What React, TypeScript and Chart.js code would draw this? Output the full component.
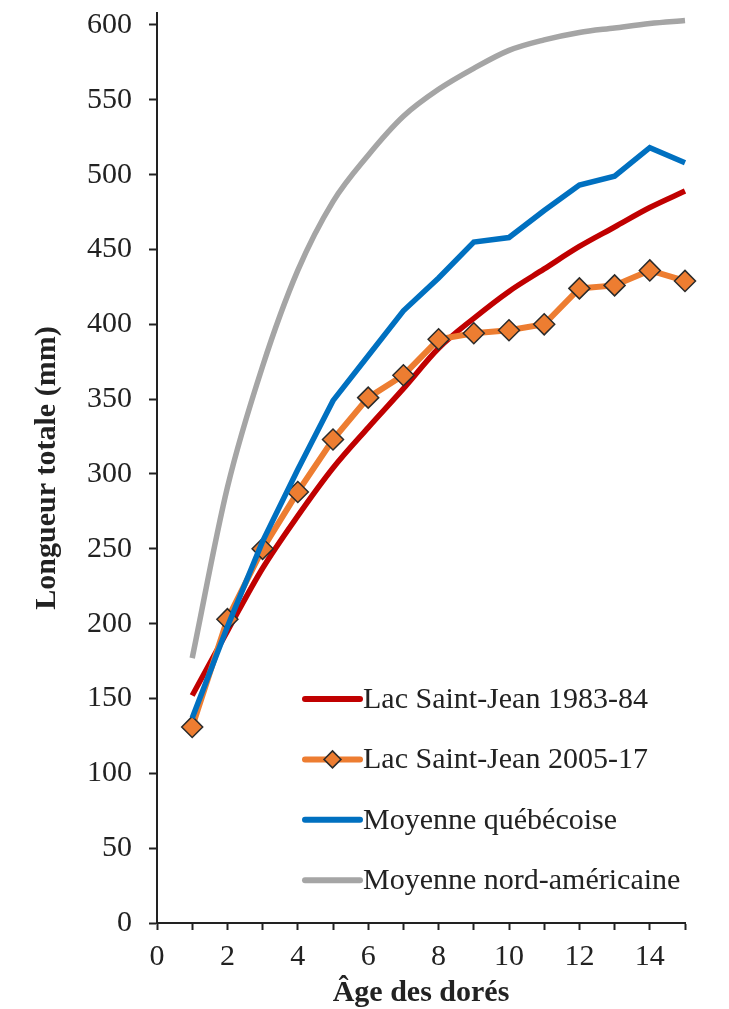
import React, { useEffect, useRef } from 'react';
import { Chart, registerables } from 'chart.js';

Chart.register(...registerables);

// ---- Data ----
const ages = [1, 2, 3, 4, 5, 6, 7, 8, 9, 10, 11, 12, 13, 14, 15];
const lacSaintJean1983 = [152, 195, 237, 272, 304, 331, 357, 384, 404, 422, 437, 452, 465, 478, 489];
const lacSaintJean2005 = [131, 203, 250, 288, 323, 351, 366, 390, 394, 396, 400, 424, 426, 436, 429];
const moyenneQuebecoise = [137, 198, 255, 303, 349, 379, 409, 431, 455, 458, 476, 493, 499, 518, 508];
const moyenneNordAmericaine = [177, 291, 372, 436, 482, 513, 539, 557, 571, 583, 590, 595, 598, 601, 603];
const seriesLabels = [
  'Lac Saint-Jean 1983-84',
  'Lac Saint-Jean 2005-17',
  'Moyenne québécoise',
  'Moyenne nord-américaine',
];
const xTitle = 'Âge des dorés';
const yTitle = 'Longueur totale (mm)';

const FONT = "'Liberation Serif', 'Times New Roman', serif";
const TEXT = '#222222';

const toXY = (ys: number[]) => ys.map((y, i) => ({ x: ages[i], y }));

const legendPlugin = {
  id: 'insideLegend',
  afterDraw(chart: any) {
    const { ctx, chartArea } = chart;
    const x0 = chartArea.left + 148;
    const x1 = x0 + 55;
    const tx = x1 + 3;
    const yStart = chartArea.top + 686;
    const gap = 60.4;
    ctx.save();
    chart.data.datasets.forEach((ds: any, i: number) => {
      const y = yStart + i * gap;
      ctx.beginPath();
      ctx.lineCap = 'round';
      ctx.lineWidth = 6;
      ctx.strokeStyle = ds.borderColor;
      ctx.moveTo(x0, y);
      ctx.lineTo(x1, y);
      ctx.stroke();
      if (ds.pointRadius && ds.pointRadius > 0) {
        const cx = (x0 + x1) / 2;
        const r = 8.5;
        ctx.beginPath();
        ctx.moveTo(cx, y - r);
        ctx.lineTo(cx + r, y);
        ctx.lineTo(cx, y + r);
        ctx.lineTo(cx - r, y);
        ctx.closePath();
        ctx.fillStyle = ds.pointBackgroundColor;
        ctx.fill();
        ctx.lineWidth = 1.5;
        ctx.strokeStyle = ds.pointBorderColor;
        ctx.stroke();
      }
      ctx.fillStyle = TEXT;
      ctx.font = `30px ${FONT}`;
      ctx.textAlign = 'left';
      ctx.textBaseline = 'middle';
      ctx.fillText(ds.label, tx, y + 1);
    });
    ctx.restore();
  },
};

export default function App() {
  const canvasRef = useRef<HTMLCanvasElement | null>(null);

  useEffect(() => {
    document.body.style.margin = '0';
    const canvas = canvasRef.current;
    if (!canvas) return;
    const chart = new Chart(canvas, {
      type: 'line',
      data: {
        datasets: [
          {
            label: seriesLabels[0],
            data: toXY(lacSaintJean1983),
            borderColor: '#C00000',
            backgroundColor: '#C00000',
            borderWidth: 5.5,
            pointRadius: 0,
            cubicInterpolationMode: 'monotone',
            order: 4,
            clip: false,
          },
          {
            label: seriesLabels[1],
            data: toXY(lacSaintJean2005),
            borderColor: '#ED7D31',
            backgroundColor: '#ED7D31',
            borderWidth: 6,
            tension: 0,
            pointStyle: 'rectRot',
            pointRadius: 10.5,
            pointBackgroundColor: '#ED7D31',
            pointBorderColor: '#2b2b2b',
            pointBorderWidth: 1.5,
            order: 3,
            clip: false,
          },
          {
            label: seriesLabels[2],
            data: toXY(moyenneQuebecoise),
            borderColor: '#0070C0',
            backgroundColor: '#0070C0',
            borderWidth: 5.5,
            tension: 0,
            pointRadius: 0,
            order: 2,
            clip: false,
          },
          {
            label: seriesLabels[3],
            data: toXY(moyenneNordAmericaine),
            borderColor: '#A5A5A5',
            backgroundColor: '#A5A5A5',
            borderWidth: 5.5,
            pointRadius: 0,
            cubicInterpolationMode: 'monotone',
            order: 1,
            clip: false,
          },
        ] as any,
      },
      options: {
        responsive: false,
        animation: false,
        events: [],
        layout: { padding: { top: 13, right: 44, bottom: 0, left: 0 } },
        plugins: {
          legend: { display: false },
          tooltip: { enabled: false },
          title: { display: false },
        },
        scales: {
          x: {
            type: 'linear',
            min: 0,
            max: 15,
            ticks: {
              stepSize: 1,
              autoSkip: false,
              maxRotation: 0,
              padding: 12,
              color: TEXT,
              font: { family: FONT, size: 30, lineHeight: 1 },
              callback: (v: any) => (Number(v) % 2 === 0 ? String(v) : ''),
            },
            grid: {
              drawOnChartArea: false,
              drawTicks: true,
              tickLength: 7,
              tickColor: TEXT,
              tickWidth: 2,
            },
            border: { display: true, color: TEXT, width: 2 },
            title: {
              display: true,
              text: xTitle,
              color: TEXT,
              font: { family: FONT, size: 30, weight: 'bold', lineHeight: 1 },
              padding: { top: 0, bottom: 1 },
            },
            afterFit: (scale: any) => {
              scale.height = 86;
              scale.paddingLeft = 0;
              scale.paddingRight = 0;
            },
          },
          y: {
            type: 'linear',
            min: 0,
            max: 608,
            ticks: {
              stepSize: 50,
              includeBounds: false,
              padding: 17,
              color: TEXT,
              font: { family: FONT, size: 30, lineHeight: 1 },
            },
            grid: {
              drawOnChartArea: false,
              drawTicks: true,
              tickLength: 8,
              tickColor: TEXT,
              tickWidth: 2,
            },
            border: { display: true, color: TEXT, width: 2 },
            title: {
              display: true,
              text: yTitle,
              color: TEXT,
              font: { family: FONT, size: 30, weight: 'bold', lineHeight: 1 },
              padding: { top: 32, bottom: 0 },
            },
            afterFit: (scale: any) => {
              scale.width = 157;
              scale.paddingTop = 0;
              scale.paddingBottom = 0;
            },
          },
        },
      } as any,
      plugins: [legendPlugin],
    });
    return () => {
      chart.destroy();
    };
  }, []);

  return (
    <div style={{ width: 729, height: 1009, background: '#fff' }}>
      <canvas ref={canvasRef} width={729} height={1009} style={{ display: 'block' }} />
    </div>
  );
}
